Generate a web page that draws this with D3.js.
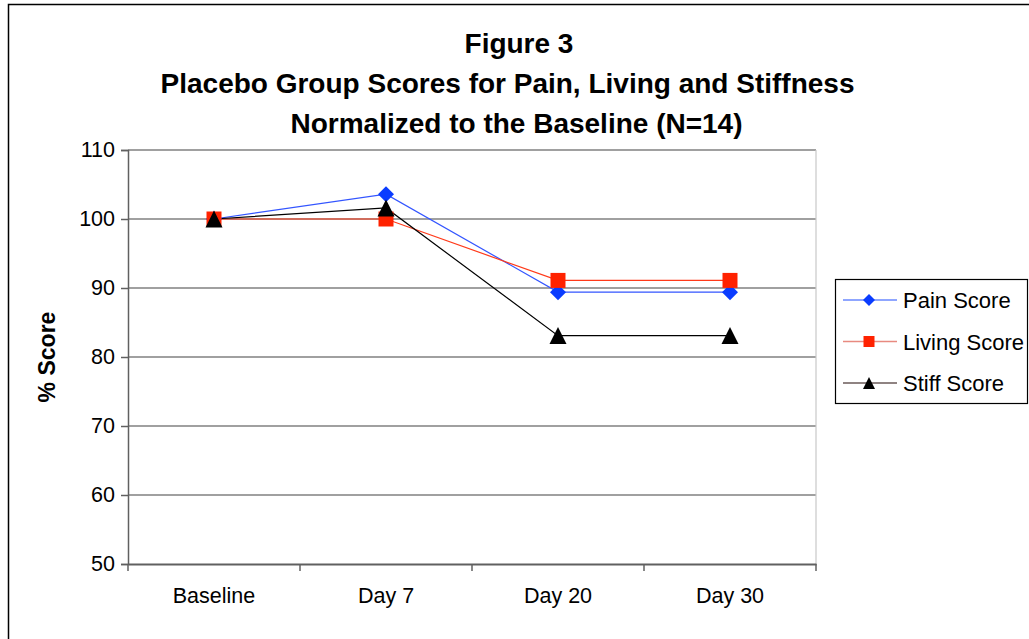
<!DOCTYPE html>
<html><head><meta charset="utf-8">
<script src="https://cdn.jsdelivr.net/npm/d3@7"></script>
<style>body{margin:0;background:#fff;} svg{display:block;font-family:"Liberation Sans",Arial,sans-serif;}</style>
</head><body>
<svg id="c" width="1029" height="639"></svg>
<script>
const categories = ["Baseline", "Day 7", "Day 20", "Day 30"];
const painScore = [100, 103.6, 89.4, 89.4];
const livingScore = [100, 100, 91.1, 91.1];
const stiffScore = [100, 101.6, 83.1, 83.1];
const yTicks = [50, 60, 70, 80, 90, 100, 110];
const titleLines = ["Figure 3", "Placebo Group Scores for Pain, Living and Stiffness", "Normalized to the Baseline (N=14)"];

const diamond = {draw(ctx, size) { const r = Math.sqrt(size) / 2; ctx.moveTo(0, -r); ctx.lineTo(r, 0); ctx.lineTo(0, r); ctx.lineTo(-r, 0); ctx.closePath(); }};
const square = {draw(ctx, size) { const r = Math.sqrt(size) / 2; ctx.rect(-r, -r, 2 * r, 2 * r); }};
const triangle = {draw(ctx, size) { const r = Math.sqrt(size) / 2; ctx.moveTo(0, -r); ctx.lineTo(r, r); ctx.lineTo(-r, r); ctx.closePath(); }};

const series = [
  {name: "Pain Score", values: painScore, line: "#3355ff", legLine: "#6a88ff", fill: "#0a3cff", shape: diamond, size: 256, legSize: 144},
  {name: "Living Score", values: livingScore, line: "#ff3a1a", legLine: "#e88a80", fill: "#ff2200", shape: square, size: 225, legSize: 121},
  {name: "Stiff Score", values: stiffScore, line: "#000000", legLine: "#6a5a58", fill: "#000000", shape: triangle, size: 289, legSize: 144}
];

const svg = d3.select("#c");
const L = 128, R = 816, T = 150, B = 564;
const FONT = "Liberation Sans, Arial, sans-serif";

// outer border
svg.append("rect").attr("x", 8.5).attr("y", 4.5).attr("width", 1100).attr("height", 700)
  .attr("fill", "none").attr("stroke", "#000").attr("stroke-width", 1.5);

// title
const titleX = [519, 507.5, 516.5];
svg.append("g").selectAll("text").data(titleLines).join("text")
  .attr("x", (d, i) => titleX[i]).attr("y", (d, i) => 53 + i * 40)
  .attr("text-anchor", "middle").attr("font-weight", "bold").attr("font-size", 28)
  .text(d => d);

const x = d3.scaleBand().domain(categories).range([L, R]);
const y = d3.scaleLinear().domain([50, 110]).range([B, T]);

// gridlines
svg.append("g").selectAll("line").data(yTicks.filter(t => t > 50)).join("line")
  .attr("x1", L).attr("x2", R).attr("y1", d => y(d)).attr("y2", d => y(d))
  .attr("stroke", "#808080").attr("stroke-width", 1.6);

// right plot border
svg.append("line").attr("x1", R).attr("x2", R).attr("y1", T).attr("y2", B)
  .attr("stroke", "#c8c8c8").attr("stroke-width", 1.2);

// y axis
const yAxis = d3.axisLeft(y).tickValues(yTicks).tickSize(7).tickPadding(6);
const gy = svg.append("g").attr("transform", `translate(${L},0)`).call(yAxis);
gy.select(".domain").attr("stroke", "#606060").attr("stroke-width", 1.5);
gy.selectAll(".tick line").attr("stroke", "#606060").attr("stroke-width", 1.5);
gy.selectAll(".tick text").attr("font-size", 21.5).attr("fill", "#000").attr("font-family", FONT);

// x axis
const xAxis = d3.axisBottom(x).tickSize(0).tickPadding(24);
const gx = svg.append("g").attr("transform", `translate(0,${B})`).call(xAxis);
gx.select(".domain").attr("stroke", "#606060").attr("stroke-width", 1.8);
gx.selectAll(".tick text").attr("font-size", 21.5).attr("fill", "#000").attr("font-family", FONT);
gx.append("g").selectAll("line").data(categories).join("line")
  .attr("x1", d => x(d) + x.bandwidth()).attr("x2", d => x(d) + x.bandwidth())
  .attr("y1", 0).attr("y2", 7).attr("stroke", "#606060").attr("stroke-width", 1.5);
gx.append("line").attr("x1", L).attr("x2", L).attr("y1", 0).attr("y2", 7)
  .attr("stroke", "#606060").attr("stroke-width", 1.5);

// y title
svg.append("text").attr("transform", "translate(55,357) rotate(-90)")
  .attr("text-anchor", "middle").attr("font-weight", "bold").attr("font-size", 23)
  .text("% Score");

// lines and markers
const line = d3.line().x((d, i) => x(categories[i]) + x.bandwidth() / 2).y(d => y(d));
series.forEach(s => {
  svg.append("path").datum(s.values).attr("d", line)
    .attr("fill", "none").attr("stroke", s.line).attr("stroke-width", 1.2);
});
series.forEach(s => {
  svg.append("g").selectAll("path").data(s.values).join("path")
    .attr("transform", (d, i) => `translate(${x(categories[i]) + x.bandwidth() / 2},${y(d)})`)
    .attr("d", d3.symbol().type(s.shape).size(s.size))
    .attr("fill", s.fill);
});

// legend
const lg = svg.append("g");
lg.append("rect").attr("x", 835.5).attr("y", 279.5).attr("width", 192).attr("height", 124)
  .attr("fill", "#fff").attr("stroke", "#000").attr("stroke-width", 1.2);
series.forEach((s, i) => {
  const cy = 300 + i * 41.5;
  lg.append("line").attr("x1", 843).attr("x2", 897).attr("y1", cy).attr("y2", cy)
    .attr("stroke", s.legLine).attr("stroke-width", 1.5);
  lg.append("path").attr("transform", `translate(869,${cy})`)
    .attr("d", d3.symbol().type(s.shape).size(s.legSize)).attr("fill", s.fill);
  lg.append("text").attr("x", 903).attr("y", cy + 8).attr("font-size", 22).text(s.name);
});
</script>
</body></html>
